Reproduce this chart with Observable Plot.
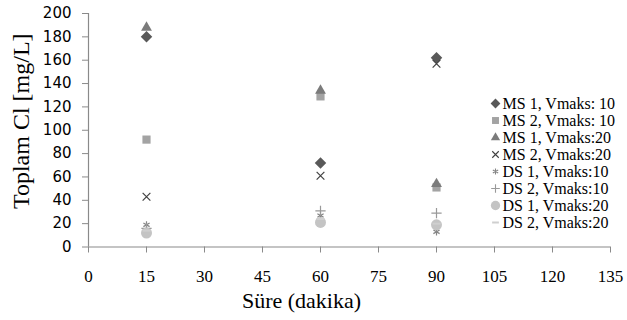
<!DOCTYPE html>
<html>
<head>
<meta charset="utf-8">
<script src="https://cdn.jsdelivr.net/npm/d3@7"></script>
<script src="https://cdn.jsdelivr.net/npm/@observablehq/plot@0.6"></script>
<style>
  body { margin: 0; background: #fff; }
  #wrap { position: relative; width: 627px; height: 320px; }
  #legend { position: absolute; left: 486px; top: 94px; width: 141px; height: 136px; max-width: none; }
</style>
</head>
<body>
<div id="wrap"></div>
<script>
// ---- data ----
const seriesNames = [
  "MS 1, Vmaks: 10",
  "MS 2, Vmaks: 10",
  "MS 1, Vmaks:20",
  "MS 2, Vmaks:20",
  "DS 1, Vmaks:10",
  "DS 2, Vmaks:10",
  "DS 1, Vmaks:20",
  "DS 2, Vmaks:20"
];
const times = [15, 60, 90];
const ms1v10 = [180, 72, 162];
const ms2v10 = [92, 129, 51];
const ms1v20 = [188, 134, 54];
const ms2v20 = [43, 61, 157];
const ds1v10 = [19, 27, 13];
const ds2v10 = [16, 31, 29];
const ds1v20 = [12, 21, 19];
const ds2v20 = [14, 24, 20];
const seriesValues = [ms1v10, ms2v10, ms1v20, ms2v20, ds1v10, ds2v10, ds1v20, ds2v20];
const xTicks = [0, 15, 30, 45, 60, 75, 90, 105, 120, 135];
const yTicks = [0, 20, 40, 60, 80, 100, 120, 140, 160, 180, 200];
const xTitle = "Süre (dakika)";
const yTitle = "Toplam Cl [mg/L]";

// ---- styles ----
const dash = {
  draw(context, size) {
    const w = Math.sqrt(size) * 0.45;
    context.rect(-w, -1, 2 * w, 2);
  }
};
const styles = [
  {symbol: "diamond2", fill: "#595959", stroke: "none", r: 5.2},
  {symbol: "square2", fill: "#a3a3a3", stroke: "none", r: 5.2},
  {symbol: "triangle2", fill: "#7b7b7b", stroke: "none", r: 5.2},
  {symbol: "times", fill: "none", stroke: "#404040", r: 3.6},
  {symbol: "asterisk", fill: "none", stroke: "#858585", r: 3.4},
  {symbol: "plus", fill: "none", stroke: "#999999", r: 3.4},
  {symbol: "circle", fill: "#c4c4c4", stroke: "none", r: 5.5},
  {symbol: dash, fill: "#cfcfcf", stroke: "none", r: 5}
];

const rows = seriesNames.flatMap((s, i) =>
  times.map((t, j) => ({series: s, t, v: seriesValues[i][j]}))
);

const axisColor = "#8a8a8a";
const serifFont = "Liberation Serif";

const chart = Plot.plot({
  width: 627,
  height: 320,
  marginLeft: 88,
  marginRight: 17,
  marginTop: 13,
  marginBottom: 73.5,
  style: {background: "#fff", color: "#000", overflow: "visible"},
  x: {domain: [0, 135]},
  y: {domain: [0, 200]},
  marks: [
    Plot.ruleX([0], {stroke: axisColor, strokeWidth: 1.2}),
    Plot.ruleY([0], {stroke: axisColor, strokeWidth: 1.2}),
    Plot.axisY({ticks: yTicks, tickSize: 6, tickPadding: 11, label: null, stroke: axisColor,
      fill: "#000", fontSize: 15, fontFamily: "DejaVu Sans", tickFormat: d3.format("d")}),
    Plot.axisX({ticks: xTicks, tickSize: 6, tickPadding: 17, label: null, stroke: axisColor,
      fill: "#000", fontSize: 17, fontFamily: serifFont, tickFormat: d3.format("d")}),
    ...seriesNames.map((s, i) =>
      Plot.dot(rows.filter(d => d.series === s), {
        x: "t", y: "v",
        symbol: styles[i].symbol,
        r: styles[i].r,
        fill: styles[i].fill,
        stroke: styles[i].stroke,
        strokeWidth: 1.2
      })
    ),
    Plot.text([yTitle], {frameAnchor: "left", rotate: -90, dx: -67, dy: -9, text: d => d,
      fontFamily: serifFont, fontSize: 24, fill: "#000", textAnchor: "middle", lineAnchor: "middle"}),
    Plot.text([xTitle], {frameAnchor: "bottom", dx: -48, dy: 54, text: d => d,
      fontFamily: serifFont, fontSize: 22, fill: "#000", textAnchor: "middle", lineAnchor: "middle"})
  ]
});

const legend = Plot.plot({
  width: 141,
  height: 136,
  marginTop: 0, marginBottom: 0, marginLeft: 0, marginRight: 0,
  style: {background: "transparent", overflow: "visible"},
  x: {domain: [0, 1], axis: null},
  y: {type: "point", domain: seriesNames, range: [8.5, 127.5], padding: 0, axis: null},
  marks: [
    ...seriesNames.map((s, i) =>
      Plot.dot([s], {
        y: d => d, frameAnchor: "left", dx: 9,
        symbol: styles[i].symbol,
        r: styles[i].r * 0.85,
        fill: styles[i].fill,
        stroke: styles[i].stroke,
        strokeWidth: 1.1
      })
    ),
    Plot.text(seriesNames, {y: d => d, frameAnchor: "left", dx: 16, text: d => d,
      fontFamily: serifFont, fontSize: 16, fill: "#000", textAnchor: "start", lineAnchor: "middle"})
  ]
});
legend.id = "legend";

const wrap = document.getElementById("wrap");
wrap.appendChild(chart);
wrap.appendChild(legend);
</script>
</body>
</html>
